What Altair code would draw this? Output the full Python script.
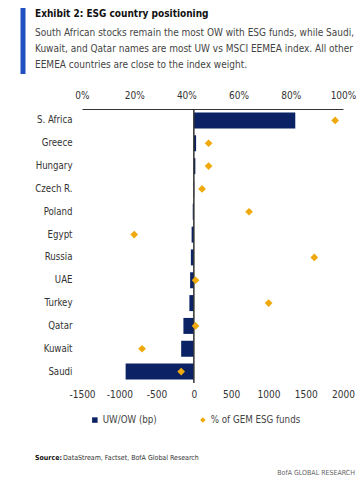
import altair as alt
import pandas as pd

countries = ["S. Africa", "Greece", "Hungary", "Czech R.", "Poland", "Egypt",
             "Russia", "UAE", "Turkey", "Qatar", "Kuwait", "Saudi"]
uwow_bp = [1360, 30, 20, 5, -15, -30, -40, -50, -60, -140, -170, -915]
esg_pct = [0.97, 0.485, 0.485, 0.46, 0.64, 0.20, 0.89, 0.435, 0.715, 0.435, 0.23, 0.38]
series = ["UW/OW (bp)", "% of GEM ESG funds"]
bp_ticks = [-1500, -1000, -500, 0, 500, 1000, 1500, 2000]
pct_ticks = [0, 0.2, 0.4, 0.6, 0.8, 1.0]

title = "Exhibit 2: ESG country positioning"
subtitle = ("South African stocks remain the most OW with ESG funds, while Saudi,\n"
            "Kuwait, and Qatar names are most UW vs MSCI EEMEA index. All other\n"
            "EEMEA countries are close to the index weight.")
source_bold = "Source:"
source_rest = "DataStream, Factset, BofA Global Research"
brand = "BofA GLOBAL RESEARCH"

NAVY = "#0b2265"
GOLD = "#f0a90c"
FONT = "DejaVu Sans Condensed, DejaVu Sans, sans-serif"

df = pd.DataFrame({"country": countries, "bp": uwow_bp, "pct": esg_pct,
                   "series": series[1]})

yenc = alt.Y("country:N", sort=countries,
             scale=alt.Scale(paddingInner=0.3, paddingOuter=0.15),
             axis=alt.Axis(title=None, domain=False, ticks=False, labelPadding=10,
                           labelFontSize=9.6, labelColor="#333", labelFont=FONT))

bars = alt.Chart(df).mark_bar(color=NAVY).encode(
    x=alt.X("bp:Q", scale=alt.Scale(domain=[-1500, 2000], nice=False),
            axis=alt.Axis(orient="bottom", values=bp_ticks, title=None, grid=False,
                          domain=False, ticks=False, labelPadding=6, labelOverlap=False,
                          labelFlush=False,
                          labelExpr="'' + datum.value", labelFontSize=10,
                          labelColor="#333", labelFont=FONT)),
    y=yenc,
)

zero = alt.Chart(pd.DataFrame({"z": [0]})).mark_rule(color="#333", strokeWidth=1.5).encode(
    x=alt.X("z:Q", scale=alt.Scale(domain=[-1500, 2000], nice=False), axis=None)
)

points = alt.Chart(df).mark_point(filled=True, opacity=1, size=60).encode(
    x=alt.X("pct:Q", scale=alt.Scale(domain=[0, 1], nice=False),
            axis=alt.Axis(orient="top", values=pct_ticks, format=".0%", title=None,
                          grid=False, ticks=False, domain=True, domainColor="#333",
                          labelPadding=9, labelFontSize=10, labelColor="#333",
                          labelOverlap=False, labelFlush=False, labelFont=FONT)),
    y=yenc,
    color=alt.Color("series:N", scale=alt.Scale(domain=series, range=[NAVY, GOLD]),
                    legend=alt.Legend(title=None, orient="none", legendX=8, legendY=306,
                                      direction="horizontal", labelFontSize=9.7,
                                      labelColor="#444", labelFont=FONT, symbolSize=30,
                                      columnPadding=41, symbolOffset=0, labelOffset=3)),
    shape=alt.Shape("series:N", scale=alt.Scale(domain=series, range=["square", "diamond"])),
)

accent = alt.Chart(pd.DataFrame({"a": [0]})).mark_rule(color="#1f4fc0", strokeWidth=5).encode(
    x=alt.value(-59), y=alt.value(-105), y2=alt.value(-35)
)

title_t = alt.Chart(pd.DataFrame({"t": [title]})).mark_text(
    align="left", baseline="alphabetic", fontSize=10, fontWeight="bold", color="#111",
    font=FONT
).encode(x=alt.value(-47), y=alt.value(-92), text="t:N")
sub_t = alt.Chart(pd.DataFrame({"t": [subtitle]})).mark_text(
    align="left", baseline="alphabetic", fontSize=10, color="#444", font=FONT,
    lineBreak="\n", lineHeight=16
).encode(x=alt.value(-47), y=alt.value(-73), text="t:N")

src1 = alt.Chart(pd.DataFrame({"t": [source_bold]})).mark_text(
    align="left", baseline="middle", fontSize=7, fontWeight="bold", color="#111", font=FONT
).encode(x=alt.value(-47), y=alt.value(349), text="t:N")
src2 = alt.Chart(pd.DataFrame({"t": [source_rest]})).mark_text(
    align="left", baseline="middle", fontSize=7, color="#333", font=FONT
).encode(x=alt.value(-19), y=alt.value(349), text="t:N")
brand_t = alt.Chart(pd.DataFrame({"t": [brand]})).mark_text(
    align="right", baseline="middle", fontSize=7, color="#666", font=FONT
).encode(x=alt.value(273), y=alt.value(364), text="t:N")

chart = alt.layer(bars, zero, points, accent, title_t, sub_t, src1, src2, brand_t).resolve_scale(
    x="independent"
).properties(
    width=261, height=274,
    padding={"left": 74, "top": 101, "right": 13, "bottom": 102},
    autosize=alt.AutoSizeParams(type="none"),
).configure_view(stroke=None)

chart.save("out.html", embed_options={"renderer": "svg", "actions": False})
